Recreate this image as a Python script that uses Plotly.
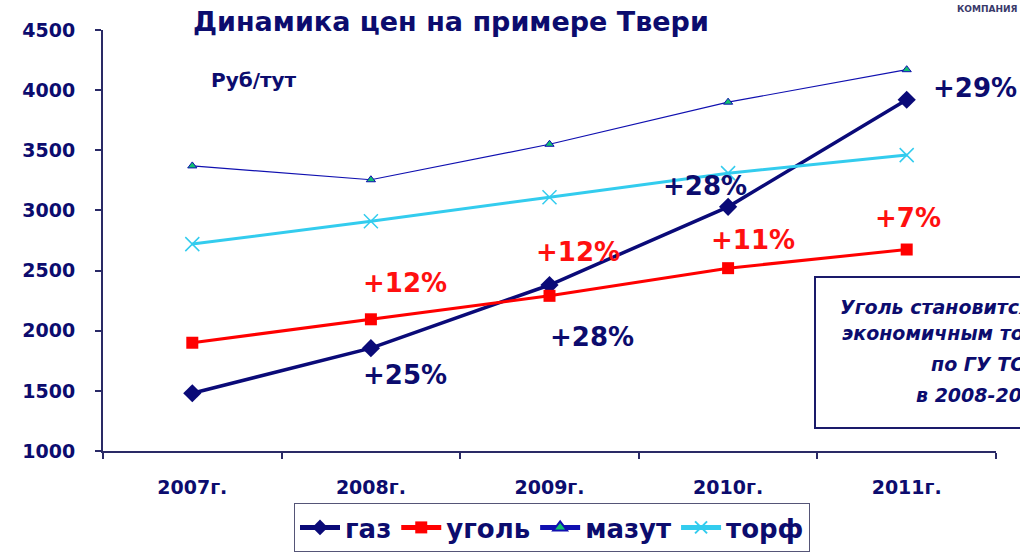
import plotly.graph_objects as go

years = ["2007г.", "2008г.", "2009г.", "2010г.", "2011г."]
gas = [1480, 1855, 2380, 3030, 3920]
coal = [1900, 2095, 2290, 2520, 2675]
mazut = [3370, 3255, 3550, 3900, 4170]
peat = [2720, 2910, 3110, 3310, 3460]

gas_labels = ["+25%", "+28%", "+28%", "+29%"]
coal_labels = ["+12%", "+12%", "+11%", "+7%"]

NAVY = "#0c0c6e"
FONT = "DejaVu Sans"

W, H = 1020, 553
L, R, T, B = 103, 24, 30, 102
PW, PH = W - L - R, H - T - B

def px(x):
    return (x - L) / PW

def py(y):
    return (H - B - y) / PH

fig = go.Figure()
fig.add_trace(go.Scatter(x=years, y=gas, name="газ", mode="lines+markers",
                         line=dict(color="#0a0a78", width=3.5),
                         marker=dict(symbol="diamond", size=14, color="#0a0a78")))
fig.add_trace(go.Scatter(x=years, y=coal, name="уголь", mode="lines+markers",
                         line=dict(color="#ff0000", width=3),
                         marker=dict(symbol="square", size=12, color="#ff0000")))
fig.add_trace(go.Scatter(x=years, y=mazut, name="мазут", mode="lines+markers",
                         line=dict(color="#1010b0", width=1.2),
                         marker=dict(symbol="triangle-up", size=8, color="#10c070",
                                     line=dict(color="#1010b0", width=1))))
fig.add_trace(go.Scatter(x=years, y=peat, name="торф", mode="lines+markers",
                         line=dict(color="#33ccee", width=3),
                         marker=dict(symbol="x-thin", size=14,
                                     line=dict(color="#33ccee", width=1.5))))

annotations = []
gas_pos = [(1.19, 1632), (2.24, 1948), (2.87, 3203), (4.38, 4017)]
coal_pos = [(1.19, 2397), (2.16, 2654), (3.14, 2754), (4.01, 2937)]
for lab, (xx, yy) in zip(gas_labels, gas_pos):
    annotations.append(dict(x=xx, y=yy, xref="x", yref="y", text=lab, showarrow=False,
                            xanchor="center", yanchor="middle",
                            font=dict(family=FONT, size=26, color=NAVY, weight="bold")))
for lab, (xx, yy) in zip(coal_labels, coal_pos):
    annotations.append(dict(x=xx, y=yy, xref="x", yref="y", text=lab, showarrow=False,
                            xanchor="center", yanchor="middle",
                            font=dict(family=FONT, size=26, color="#ff1010", weight="bold")))

annotations.append(dict(x=px(451), y=py(22), xref="paper", yref="paper",
                        xanchor="center", yanchor="middle",
                        text="Динамика цен на примере Твери", showarrow=False,
                        font=dict(family=FONT, size=27, color=NAVY, weight="bold")))
annotations.append(dict(x=px(254), y=py(80), xref="paper", yref="paper",
                        xanchor="center", yanchor="middle",
                        text="Руб/тут", showarrow=False,
                        font=dict(family=FONT, size=20, color=NAVY, weight="bold")))
annotations.append(dict(x=px(955), y=py(9), xref="paper", yref="paper",
                        xanchor="left", yanchor="middle",
                        text="КОМПАНИЯ", showarrow=False,
                        font=dict(family=FONT, size=9, color="#3a3a6a", weight="bold")))

box_lines = [("Уголь становится наиболее", 838, 307),
             ("экономичным топливом", 840, 333),
             ("по ГУ ТО", 929, 364),
             ("в 2008-2011 гг.", 914, 395)]
for txt, xx, yy in box_lines:
    annotations.append(dict(x=px(xx), y=py(yy), xref="paper", yref="paper",
                            xanchor="left", yanchor="middle", text=txt, showarrow=False,
                            font=dict(family=FONT, size=19, color=NAVY,
                                      weight="bold", style="italic")))

fig.add_shape(type="rect", xref="paper", yref="paper",
              x0=px(815), x1=px(1045), y0=py(428), y1=py(277),
              line=dict(color="#1a1a6a", width=2), fillcolor="white", layer="below")

fig.update_layout(
    width=W, height=H,
    margin=dict(l=L, r=R, t=T, b=B, autoexpand=False),
    paper_bgcolor="white", plot_bgcolor="white",
    annotations=annotations,
    showlegend=True,
    legend=dict(orientation="h", x=px(552), xanchor="center", y=py(552), yanchor="bottom",
                font=dict(family=FONT, size=26, color=NAVY, weight="bold"),
                bordercolor="#555577", borderwidth=1, bgcolor="white",
                itemsizing="constant", itemwidth=40, tracegroupgap=0),
)
fig.update_xaxes(type="category", range=[-0.5, 4.5], showgrid=False,
                 showline=True, linecolor="#2a2a66", linewidth=2,
                 ticks="outside", tickson="boundaries", ticklen=6, tickwidth=2,
                 tickcolor="#2a2a66", ticklabelstandoff=18,
                 tickfont=dict(family=FONT, size=19, color=NAVY, weight="bold"))
fig.update_yaxes(range=[1000, 4500], dtick=500, showgrid=False, zeroline=False,
                 showline=True, linecolor="#2a2a66", linewidth=2,
                 ticks="outside", ticklen=6, tickwidth=2, tickcolor="#2a2a66",
                 ticklabelstandoff=16,
                 tickfont=dict(family=FONT, size=19, color=NAVY, weight="bold"))

fig.write_html("out.html", config={"displayModeBar": False},
               post_script="document.body.style.margin='0';document.body.style.overflow='hidden';")
